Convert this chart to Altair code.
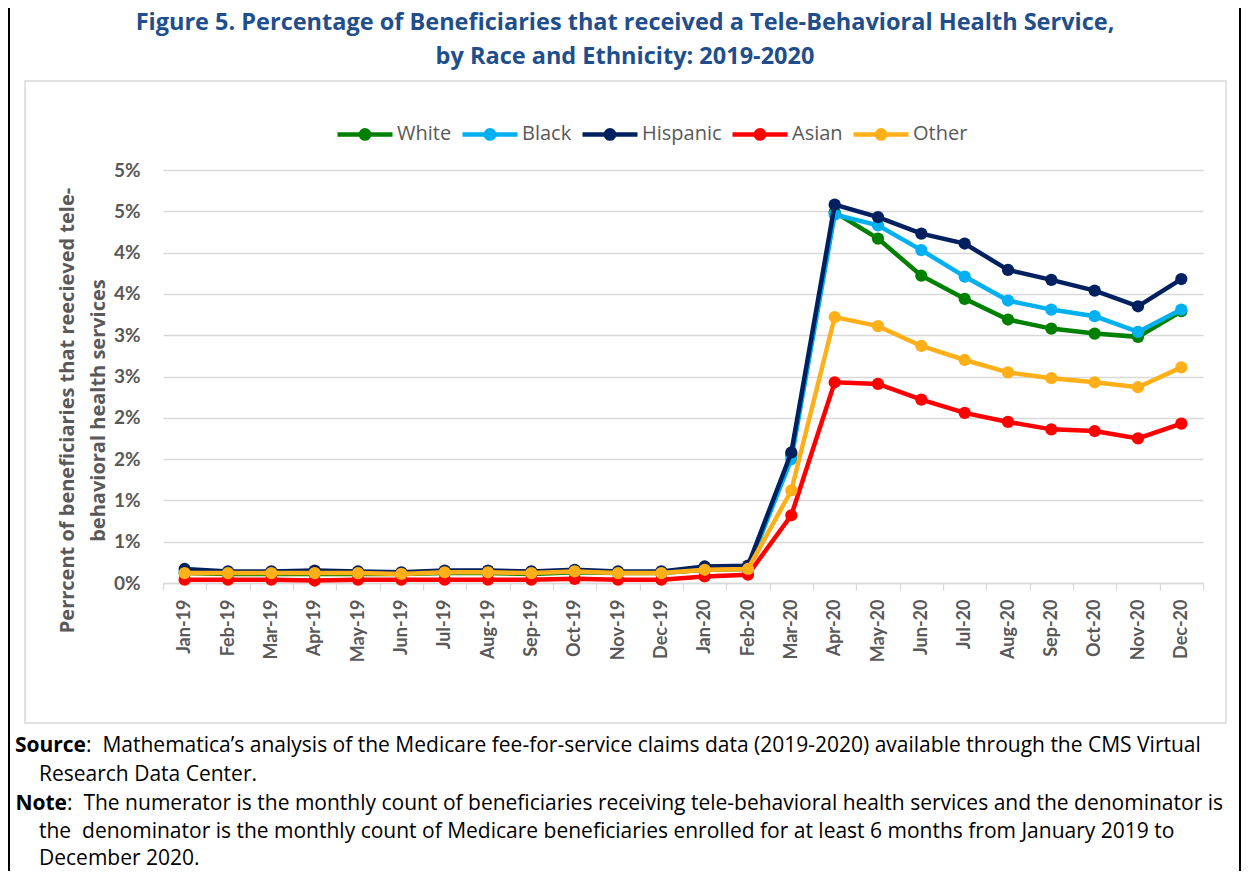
import altair as alt
import pandas as pd

months = ["Jan-19", "Feb-19", "Mar-19", "Apr-19", "May-19", "Jun-19", "Jul-19", "Aug-19",
          "Sep-19", "Oct-19", "Nov-19", "Dec-19", "Jan-20", "Feb-20", "Mar-20", "Apr-20",
          "May-20", "Jun-20", "Jul-20", "Aug-20", "Sep-20", "Oct-20", "Nov-20", "Dec-20"]
series = ["White", "Black", "Hispanic", "Asian", "Other"]
colors = ["#008000", "#00B0F0", "#002060", "#FF0000", "#FFB019"]

white = [0.12, 0.11, 0.11, 0.11, 0.11, 0.11, 0.12, 0.12, 0.11, 0.13, 0.12, 0.12,
         0.16, 0.17, 1.55, 4.49, 4.17, 3.72, 3.44, 3.19, 3.08, 3.02, 2.98, 3.29]
black = [0.14, 0.13, 0.13, 0.13, 0.13, 0.12, 0.14, 0.14, 0.13, 0.15, 0.13, 0.13,
         0.17, 0.18, 1.50, 4.46, 4.33, 4.03, 3.71, 3.42, 3.31, 3.23, 3.04, 3.31]
hispanic = [0.17, 0.14, 0.14, 0.15, 0.14, 0.13, 0.15, 0.15, 0.14, 0.16, 0.14, 0.14,
            0.20, 0.21, 1.58, 4.58, 4.43, 4.23, 4.11, 3.79, 3.67, 3.54, 3.35, 3.68]
asian = [0.04, 0.04, 0.04, 0.03, 0.04, 0.04, 0.04, 0.04, 0.04, 0.05, 0.04, 0.04,
         0.08, 0.10, 0.82, 2.43, 2.41, 2.22, 2.06, 1.95, 1.86, 1.84, 1.75, 1.93]
other = [0.12, 0.12, 0.12, 0.12, 0.12, 0.11, 0.13, 0.13, 0.12, 0.14, 0.12, 0.12,
         0.16, 0.17, 1.12, 3.22, 3.11, 2.87, 2.70, 2.55, 2.48, 2.43, 2.37, 2.61]

y_ticks = [0, 0.5, 1, 1.5, 2, 2.5, 3, 3.5, 4, 4.5, 5]

title_lines = ["Figure 5. Percentage of Beneficiaries that received a Tele-Behavioral Health Service,",
               "by Race and Ethnicity: 2019-2020"]
y_title = ["Perrcent of beneficiaries that reecieved tele-", "behavioral health services"]

NB = "\u00a0"
source_bold = "Source"
source_l1 = ":" + NB + " Mathematica\u2019s analysis of the Medicare fee-for-service claims data (2019-2020) available through the CMS Virtual"
source_l2 = "Research Data Center."
note_bold = "Note"
note_l1 = ":" + NB + " The numerator is the monthly count of beneficiaries receiving tele-behavioral health services and the denominator is"
note_l2 = "the" + NB + " denominator is the monthly count of Medicare beneficiaries enrolled for at least 6 months from January 2019 to"
note_l3 = "December 2020."

rows = []
for s, vals in zip(series, [white, black, hispanic, asian, other]):
    for m, v in zip(months, vals):
        rows.append({"month": m, "series": s, "pct": v})
df = pd.DataFrame(rows)

FONT = "Open Sans"
TICKFONT = "Lato"
GRAY = "#595959"
GRID = "#D9D9D9"
W, H = 1040, 413

legend_path = ("M-1,0L1,0 "
               "M0.05,0A0.05,0.05,0,1,1,-0.05,0A0.05,0.05,0,1,1,0.05,0Z "
               "M0.15,0A0.15,0.15,0,1,1,-0.15,0A0.15,0.15,0,1,1,0.15,0Z")

x_enc = alt.X("month:N", sort=months,
              scale=alt.Scale(type="band", domain=months, paddingInner=0, paddingOuter=0),
              axis=alt.Axis(title=None, labelAngle=270, labelFont=TICKFONT, labelFontSize=18,
                            labelFontWeight="bold", labelColor=GRAY, labelPadding=9,
                            ticks=True, tickBand="extent", tickSize=7, tickColor=GRID,
                            tickWidth=1.3, domainColor=GRID, domainWidth=1.3, grid=False))
y_enc = alt.Y("pct:Q",
              scale=alt.Scale(domain=[0, 5], nice=False, zero=True),
              axis=alt.Axis(values=y_ticks, labelExpr="round(datum.value) + '%'",
                            grid=True, gridColor=GRID, gridWidth=1.3, domain=False, ticks=False,
                            labelPadding=23, labelFont=TICKFONT, labelFontSize=19,
                            labelFontWeight="bold", labelColor=GRAY,
                            title=y_title, titleFont=FONT, titleFontSize=20,
                            titleFontWeight="bold", titleColor=GRAY, titleLineHeight=31,
                            titleX=-86, titleY=240))
color_enc = alt.Color("series:N", sort=series,
                      scale=alt.Scale(domain=series, range=colors),
                      legend=alt.Legend(orient="none", legendX=172, legendY=-66,
                                        direction="horizontal", title=None,
                                        symbolType=legend_path, symbolSize=3025,
                                        symbolStrokeWidth=4.5, labelFont=FONT,
                                        labelFontSize=20, labelColor=GRAY, labelOffset=2,
                                        columnPadding=1))

layers = []
for s in series:
    layers.append(
        alt.Chart(df).transform_filter(alt.datum.series == s)
        .mark_line(strokeWidth=4.5,
                   point=alt.OverlayMarkDef(filled=True, size=150, opacity=1))
        .encode(x=x_enc, y=y_enc, color=color_enc)
    )

one = alt.Data(values=[{"a": 1}])


def text_layer(txt, x, y, size, weight="normal", color="black", align="left"):
    return alt.Chart(one).mark_text(text=txt, font=FONT, fontSize=size, fontWeight=weight,
                                    color=color, align=align, baseline="middle").encode(
        x=alt.value(x), y=alt.value(y))


# plot origin in page coords: (163, 170)
OX, OY = 163, 170
deco = []
deco.append(alt.Chart(one).mark_rect(filled=False, stroke=GRID, strokeWidth=1.5).encode(
    x=alt.value(25 - OX), x2=alt.value(1226 - OX), y=alt.value(81 - OY), y2=alt.value(723 - OY)))
deco.append(alt.Chart(one).mark_rule(color="black", strokeWidth=2).encode(
    x=alt.value(9 - OX), y=alt.value(8 - OY), y2=alt.value(871 - OY)))
deco.append(alt.Chart(one).mark_rule(color="black", strokeWidth=2).encode(
    x=alt.value(1240 - OX), y=alt.value(8 - OY), y2=alt.value(871 - OY)))

TITLE_C = "#1F4E8C"
deco.append(text_layer(title_lines[0], 625 - OX, 23 - OY, 23.5, "bold", TITLE_C, "center"))
deco.append(text_layer(title_lines[1], 625 - OX, 57 - OY, 23.5, "bold", TITLE_C, "center"))

FS = 21
deco.append(text_layer(source_bold, 86 - OX, 746 - OY, FS, "bold", "black", "right"))
deco.append(text_layer(source_l1, 86 - OX, 746 - OY, FS))
deco.append(text_layer(source_l2, 39 - OX, 775 - OY, FS))
deco.append(text_layer(note_bold, 67 - OX, 804 - OY, FS, "bold", "black", "right"))
deco.append(text_layer(note_l1, 67 - OX, 804 - OY, FS))
deco.append(text_layer(note_l2, 39 - OX, 832 - OY, FS))
deco.append(text_layer(note_l3, 39 - OX, 859 - OY, FS))

chart = alt.layer(*deco, *layers).properties(
    width=W, height=H,
    padding={"left": 155, "top": 162, "right": 39, "bottom": 288},
    autosize=alt.AutoSizeParams(type="none"),
    background="white",
).configure_view(strokeWidth=0)

chart.save("out.html", embed_options={"renderer": "svg", "actions": False})
